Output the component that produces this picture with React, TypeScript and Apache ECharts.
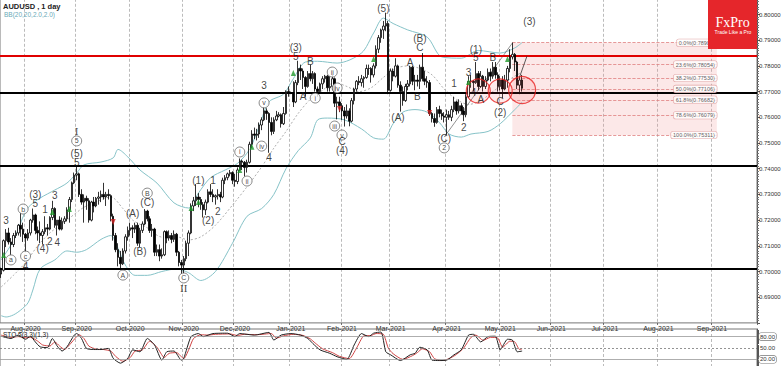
import React, { useEffect, useRef } from "react";
import * as echarts from "echarts";

const START = [2020, 6, 20];
const BAR_COUNT = 311;
const MONTHS = ["Jan","Feb","Mar","Apr","May","Jun","Jul","Aug","Sep","Oct","Nov","Dec"];

// [open, high, low, close] daily AUDUSD from 2020-07-20
const candles: number[][] = [
[0.6990,0.7015,0.6975,0.7005],[0.7005,0.7125,0.7000,0.7120],[0.7120,0.7165,0.7095,0.7150],[0.7150,0.7170,0.7105,0.7115],[0.7115,0.7130,0.7065,0.7105],
[0.7105,0.7150,0.7095,0.7140],[0.7140,0.7160,0.7130,0.7150],[0.7150,0.7185,0.7140,0.7180],[0.7180,0.7230,0.7135,0.7165],[0.7165,0.7190,0.7115,0.7145],
[0.7145,0.7150,0.7075,0.7130],[0.7130,0.7165,0.7120,0.7150],[0.7150,0.7205,0.7140,0.7200],[0.7200,0.7245,0.7190,0.7220],[0.7220,0.7225,0.7145,0.7160],
[0.7160,0.7175,0.7120,0.7150],[0.7150,0.7195,0.7110,0.7140],[0.7140,0.7165,0.7105,0.7155],[0.7155,0.7215,0.7145,0.7170],[0.7170,0.7185,0.7140,0.7165],
[0.7165,0.7215,0.7160,0.7210],[0.7210,0.7275,0.7200,0.7245],[0.7245,0.7250,0.7170,0.7180],[0.7180,0.7200,0.7140,0.7200],[0.7200,0.7215,0.7160,0.7165],
[0.7165,0.7210,0.7160,0.7195],[0.7195,0.7215,0.7185,0.7205],[0.7205,0.7250,0.7195,0.7240],[0.7240,0.7290,0.7190,0.7280],[0.7280,0.7350,0.7270,0.7345],
[0.7345,0.7385,0.7340,0.7375],[0.7375,0.7413,0.7355,0.7380],[0.7380,0.7385,0.7290,0.7300],[0.7300,0.7320,0.7260,0.7270],[0.7270,0.7300,0.7190,0.7285],
[0.7285,0.7295,0.7240,0.7275],[0.7275,0.7285,0.7190,0.7200],[0.7200,0.7275,0.7195,0.7270],[0.7270,0.7290,0.7230,0.7255],[0.7255,0.7290,0.7250,0.7285],
[0.7285,0.7310,0.7260,0.7290],[0.7290,0.7315,0.7270,0.7300],[0.7300,0.7345,0.7280,0.7290],[0.7290,0.7310,0.7255,0.7300],[0.7300,0.7320,0.7280,0.7295],
[0.7295,0.7300,0.7195,0.7215],[0.7215,0.7225,0.7120,0.7140],[0.7140,0.7150,0.7075,0.7085],[0.7085,0.7110,0.7020,0.7055],[0.7055,0.7080,0.7006,0.7030],
[0.7030,0.7090,0.7025,0.7080],[0.7080,0.7145,0.7070,0.7135],[0.7135,0.7175,0.7120,0.7160],[0.7160,0.7190,0.7140,0.7170],[0.7170,0.7180,0.7130,0.7165],
[0.7165,0.7190,0.7150,0.7180],[0.7180,0.7190,0.7100,0.7110],[0.7110,0.7170,0.7095,0.7160],[0.7160,0.7195,0.7150,0.7185],[0.7185,0.7243,0.7180,0.7235],
[0.7235,0.7240,0.7195,0.7205],[0.7205,0.7215,0.7150,0.7160],[0.7160,0.7185,0.7135,0.7165],[0.7165,0.7170,0.7060,0.7075],[0.7075,0.7105,0.7060,0.7085],
[0.7085,0.7105,0.7040,0.7060],[0.7060,0.7090,0.7050,0.7065],[0.7065,0.7160,0.7060,0.7155],[0.7155,0.7160,0.7110,0.7130],[0.7130,0.7160,0.7120,0.7140],
[0.7140,0.7150,0.7110,0.7125],[0.7125,0.7160,0.7115,0.7145],[0.7145,0.7150,0.7060,0.7075],[0.7075,0.7080,0.7020,0.7035],[0.7035,0.7045,0.6990,0.7025],
[0.7025,0.7060,0.6991,0.7050],[0.7050,0.7120,0.7040,0.7110],[0.7110,0.7160,0.7060,0.7150],[0.7150,0.7265,0.7145,0.7255],[0.7255,0.7290,0.7235,0.7275],
[0.7275,0.7340,0.7255,0.7290],[0.7290,0.7305,0.7250,0.7280],[0.7280,0.7290,0.7240,0.7260],[0.7260,0.7270,0.7210,0.7240],[0.7240,0.7280,0.7220,0.7270],
[0.7270,0.7320,0.7265,0.7310],[0.7310,0.7340,0.7290,0.7300],[0.7300,0.7320,0.7270,0.7290],[0.7290,0.7300,0.7260,0.7295],[0.7295,0.7320,0.7280,0.7300],
[0.7300,0.7310,0.7270,0.7290],[0.7290,0.7365,0.7285,0.7355],[0.7355,0.7375,0.7340,0.7365],[0.7365,0.7385,0.7355,0.7380],[0.7380,0.7395,0.7370,0.7385],
[0.7385,0.7390,0.7340,0.7355],[0.7355,0.7380,0.7330,0.7350],[0.7350,0.7405,0.7340,0.7395],[0.7395,0.7440,0.7390,0.7430],[0.7430,0.7435,0.7395,0.7425],
[0.7425,0.7430,0.7370,0.7405],[0.7405,0.7435,0.7385,0.7425],[0.7425,0.7505,0.7420,0.7495],[0.7495,0.7550,0.7480,0.7535],[0.7535,0.7560,0.7515,0.7530],
[0.7530,0.7555,0.7510,0.7535],[0.7535,0.7580,0.7520,0.7570],[0.7570,0.7600,0.7550,0.7590],[0.7590,0.7640,0.7585,0.7625],[0.7625,0.7635,0.7590,0.7615],
[0.7615,0.7620,0.7462,0.7580],[0.7580,0.7600,0.7530,0.7545],[0.7545,0.7600,0.7535,0.7590],[0.7590,0.7625,0.7585,0.7605],[0.7605,0.7620,0.7600,0.7610],
[0.7610,0.7615,0.7560,0.7575],[0.7575,0.7640,0.7570,0.7615],[0.7615,0.7705,0.7610,0.7700],[0.7700,0.7720,0.7680,0.7695],[0.7695,0.7700,0.7690,0.7695],
[0.7695,0.7740,0.7640,0.7660],[0.7660,0.7745,0.7655,0.7735],[0.7735,0.7820,0.7725,0.7790],[0.7790,0.7805,0.7745,0.7780],[0.7780,0.7790,0.7710,0.7755],
[0.7755,0.7760,0.7680,0.7720],[0.7720,0.7780,0.7715,0.7770],[0.7770,0.7805,0.7740,0.7750],[0.7750,0.7780,0.7730,0.7770],[0.7770,0.7775,0.7700,0.7710],
[0.7710,0.7720,0.7680,0.7700],[0.7700,0.7735,0.7690,0.7730],[0.7730,0.7760,0.7710,0.7750],[0.7750,0.7765,0.7735,0.7760],[0.7760,0.7765,0.7700,0.7715],
[0.7715,0.7760,0.7700,0.7720],[0.7720,0.7765,0.7705,0.7750],[0.7750,0.7755,0.7640,0.7655],[0.7655,0.7680,0.7592,0.7660],[0.7660,0.7680,0.7620,0.7645],
[0.7645,0.7655,0.7590,0.7625],[0.7625,0.7640,0.7564,0.7605],[0.7605,0.7650,0.7595,0.7625],[0.7625,0.7635,0.7565,0.7585],[0.7585,0.7675,0.7580,0.7665],
[0.7665,0.7715,0.7650,0.7710],[0.7710,0.7745,0.7700,0.7740],[0.7740,0.7760,0.7725,0.7735],[0.7735,0.7765,0.7720,0.7750],[0.7750,0.7760,0.7715,0.7755],
[0.7755,0.7805,0.7750,0.7790],[0.7790,0.7805,0.7765,0.7790],[0.7790,0.7795,0.7735,0.7765],[0.7765,0.7810,0.7755,0.7800],[0.7800,0.7880,0.7790,0.7865],
[0.7865,0.7920,0.7850,0.7910],[0.7910,0.7945,0.7890,0.7940],[0.7940,0.7975,0.7905,0.7955],[0.7955,0.8007,0.7935,0.7965],[0.7965,0.7975,0.7690,0.7705],
[0.7705,0.7790,0.7700,0.7780],[0.7780,0.7790,0.7740,0.7760],[0.7760,0.7830,0.7755,0.7800],[0.7800,0.7805,0.7715,0.7725],[0.7725,0.7740,0.7622,0.7700],
[0.7700,0.7720,0.7645,0.7665],[0.7665,0.7730,0.7660,0.7720],[0.7720,0.7745,0.7705,0.7730],[0.7730,0.7800,0.7720,0.7795],[0.7795,0.7800,0.7725,0.7740],
[0.7740,0.7765,0.7705,0.7745],[0.7745,0.7765,0.7720,0.7740],[0.7740,0.7805,0.7710,0.7795],[0.7795,0.7850,0.7740,0.7750],[0.7750,0.7780,0.7725,0.7740],
[0.7740,0.7760,0.7715,0.7735],[0.7735,0.7745,0.7605,0.7615],[0.7615,0.7620,0.7580,0.7595],[0.7595,0.7615,0.7563,0.7580],[0.7580,0.7640,0.7575,0.7630],
[0.7630,0.7645,0.7600,0.7615],[0.7615,0.7630,0.7590,0.7605],[0.7605,0.7620,0.7580,0.7600],[0.7600,0.7630,0.7532,0.7610],[0.7610,0.7625,0.7590,0.7600],
[0.7600,0.7645,0.7585,0.7630],[0.7630,0.7680,0.7620,0.7660],[0.7660,0.7665,0.7610,0.7625],[0.7625,0.7670,0.7615,0.7645],[0.7645,0.7655,0.7610,0.7625],
[0.7625,0.7640,0.7585,0.7610],[0.7610,0.7690,0.7600,0.7680],[0.7680,0.7760,0.7675,0.7740],[0.7740,0.7765,0.7715,0.7740],[0.7740,0.7745,0.7700,0.7735],
[0.7735,0.7815,0.7730,0.7770],[0.7770,0.7780,0.7705,0.7720],[0.7720,0.7780,0.7715,0.7760],[0.7760,0.7765,0.7700,0.7720],[0.7720,0.7760,0.7710,0.7745],
[0.7745,0.7790,0.7740,0.7775],[0.7775,0.7790,0.7740,0.7760],[0.7760,0.7815,0.7750,0.7795],[0.7795,0.7815,0.7750,0.7765],[0.7765,0.7775,0.7700,0.7720],
[0.7720,0.7760,0.7705,0.7745],[0.7745,0.7760,0.7675,0.7710],[0.7710,0.7765,0.7705,0.7745],[0.7745,0.7800,0.7715,0.7790],[0.7790,0.7865,0.7775,0.7835],
[0.7835,0.7891,0.7825,0.7845],[0.7845,0.7850,0.7780,0.7815],[0.7815,0.7820,0.7710,0.7725],[0.7725,0.7760,0.7690,0.7745],[0.7745,0.7765,0.7700,0.7713]
];

const bbUpper = [[0,0.7045],[5,0.712],[10,0.7235],[12,0.7258],[16,0.7286],[22,0.7317],[27,0.7344],[31,0.7383],[34,0.7415],[41,0.7426],[46,0.7442],[48,0.7475],[52,0.7446],[57,0.7395],[64,0.7344],[71,0.7267],[77,0.7247],[81,0.7305],[86,0.7365],[92,0.7395],[97,0.7420],[102,0.7475],[106,0.7565],[110,0.766],[116,0.769],[120,0.775],[125,0.7815],[130,0.7818],[138,0.7811],[148,0.785],[153,0.7928],[157,0.7986],[161,0.7965],[167,0.794],[175,0.7912],[181,0.7835],[189,0.783],[196,0.786],[205,0.785],[211,0.787],[214,0.7891]];
const bbMiddle = [[0,0.6940],[5,0.6985],[10,0.7035],[15,0.710],[20,0.7150],[27,0.720],[34,0.725],[40,0.7275],[45,0.729],[50,0.7245],[54,0.720],[60,0.717],[66,0.7134],[72,0.7135],[77,0.7123],[82,0.7135],[88,0.718],[96,0.7270],[101,0.733],[107,0.7407],[112,0.748],[117,0.7545],[122,0.7615],[127,0.767],[132,0.7705],[137,0.7735],[142,0.7720],[147,0.7700],[152,0.7715],[157,0.7755],[162,0.7790],[167,0.7800],[172,0.7790],[177,0.7765],[182,0.7710],[187,0.7670],[192,0.7650],[197,0.7665],[202,0.7700],[207,0.7735],[211,0.7760],[214,0.7775]];
const bbLower = [[0,0.6828],[2,0.6823],[5,0.6831],[8,0.685],[11,0.6878],[13,0.6928],[16,0.701],[22,0.7045],[27,0.708],[31,0.7075],[35,0.7085],[41,0.7125],[45,0.714],[48,0.709],[51,0.7025],[55,0.6985],[60,0.6985],[66,0.700],[72,0.701],[77,0.6995],[82,0.6965],[88,0.700],[95,0.711],[101,0.7215],[107,0.7245],[112,0.730],[117,0.740],[122,0.747],[127,0.752],[130,0.759],[134,0.7597],[141,0.759],[148,0.7555],[153,0.752],[157,0.7515],[161,0.7575],[165,0.762],[170,0.763],[175,0.762],[180,0.758],[184,0.7535],[189,0.7523],[193,0.7535],[200,0.7545],[205,0.7575],[211,0.763],[214,0.7659]];

const stochK = [[0,81],[4,75],[7,84],[10,73],[12,81],[14,66],[16,53],[19,51],[21,75],[23,55],[25,42],[27,53],[30,84],[31,88],[33,75],[35,49],[38,46],[41,46],[44,49],[46,23],[49,10],[52,23],[54,45],[57,40],[60,75],[63,58],[66,18],[68,40],[71,42],[74,18],[75,23],[78,80],[81,88],[83,80],[87,88],[93,89],[96,80],[98,88],[104,84],[110,91],[112,71],[115,84],[119,88],[123,84],[126,75],[128,62],[131,45],[135,36],[138,27],[142,20],[145,58],[148,88],[151,80],[153,89],[156,92],[158,40],[160,32],[164,17],[168,32],[170,36],[172,52],[175,45],[177,18],[180,17],[183,18],[186,32],[189,45],[192,84],[194,86],[197,66],[200,80],[203,81],[205,45],[208,73],[210,71],[212,40],[214,41.92]];
const stochD = [[0,84],[4,78],[7,80],[10,77],[12,78],[15,68],[17,58],[20,55],[22,66],[24,55],[26,46],[28,58],[31,80],[32,85],[34,75],[36,55],[39,47],[42,46],[45,42],[47,28],[50,15],[53,25],[55,42],[58,45],[61,68],[64,52],[67,25],[69,36],[72,38],[75,22],[77,45],[79,75],[82,85],[85,84],[88,86],[94,87],[97,83],[100,86],[105,85],[111,88],[113,76],[116,82],[120,86],[124,83],[127,74],[129,63],[132,48],[136,38],[139,28],[143,22],[146,50],[149,82],[152,83],[154,88],[157,86],[159,50],[161,35],[165,20],[169,30],[171,38],[173,48],[176,40],[178,22],[181,17],[184,22],[187,33],[190,50],[193,78],[195,84],[198,70],[201,78],[204,76],[206,52],[209,68],[211,66],[213,46],[214,48]];

const blackLevels = [0.7697, 0.7410, 0.7012];
const redLevel = 0.7840;

const fibPct = ["0.0%", "23.6%", "38.2%", "50.0%", "61.8%", "78.6%", "100.0%"];
const fibValues = [0.78901, 0.78054, 0.77530, 0.77106, 0.76682, 0.76079, 0.75311];
const fibStart = 209.6;
const fibEnd = 294.4;

const axisMarks = [[0.77751, "#dcdcdc", "#888"], [0.77132, "#d3a9a9", "#a66"], [0.76588, "#a3a8e0", "#66a"]];
const stochLevels = [80, 50, 20];
const stochLast = 41.92;

const plainLabels: [string, number, number][] = [
["3",2.2,0.7200],["4",10,0.7021],["(3)",14,0.7298],["5",13.7,0.7263],["1",18.2,0.7243],["(4)",17.4,0.7090],["2",19.5,0.7115],["3",22.4,0.7294],["4",23.2,0.7111],
["(5)",31.4,0.7461],["5",31.4,0.7424],["(A)",53.6,0.7224],["(B)",57.3,0.7076],["(C)",59.8,0.7267],["(1)",80.8,0.7356],["(2)",84.9,0.7200],["1",86.5,0.7356],["2",88.6,0.7235],
["3",108.4,0.7722],["4",110.4,0.7442],["(3)",121,0.7870],["5",121,0.7835],["A",124,0.7679],["B",127,0.7819],["C",139.6,0.7504],["(4)",139.6,0.7469],
["(5)",156.9,0.8025],["(A)",162.7,0.7601],["A",168,0.7815],["B",171,0.7679],["(B)",172.1,0.7905],["C",172.1,0.7870],["(C)",182,0.7516],["1",186.1,0.7733],["2",190.3,0.7562],
["3",192.3,0.7776],["4",194.4,0.7698],["(1)",195.2,0.7862],["5",195.2,0.7831],["A",197.2,0.7671],["B",202.2,0.7831],["C",205,0.7660],["(2)",205,0.7617],["(3)",217,0.7971]
];
const circledLabels: [string, number, number][] = [
["a",3.8,0.7045],["b",9,0.7243],["c",10,0.7060],["5",31.4,0.7508],["A",49.5,0.6986],["B",59.8,0.7305],["C",75.4,0.6975],
["i",98,0.7465],["ii",100.5,0.7352],["iv",107,0.7488],["v",108.4,0.7656],["i",128.5,0.7675],["ii",136.3,0.7776],["iii",136.7,0.7566],["iv",138.4,0.7714],["v",139.6,0.7531],["2",182,0.7481]
];
const romanLabels: [string, number, number][] = [["I",31.4,0.7547],["II",75.4,0.6936]];

const redCircles = [[196.4,0.7702,24],[204.7,0.7702,24],[213.7,0.7706,27]];
const greenArrows = [[0.9,0.7064],[21,0.7232],[28,0.7243],[78.3,0.7247],[80.8,0.7270],[97.7,0.7395],[103.4,0.7485],[119.9,0.7772],[153.2,0.7827],[192.3,0.7737],[208.4,0.7827]];
const redArrows = [[46.2,0.7193],[138.8,0.7632],[176.3,0.7617]];
const trendLines = [[[182,0.7523],[209.6,0.7889]]];
const arrowLine = [[213.3,0.7758],[216.2,0.7838]];

function buildDates(): string[] {
  const out: string[] = [];
  let t = Date.UTC(START[0], START[1], START[2]);
  while (out.length < BAR_COUNT) {
    const d = new Date(t);
    const wd = d.getUTCDay();
    if (wd !== 0 && wd !== 6) out.push(d.toISOString().slice(0, 10));
    t += 86400000;
  }
  return out;
}

export default function App() {
  const ref = useRef<HTMLDivElement>(null);
  useEffect(() => {
    if (!ref.current) return;
    const chart = echarts.init(ref.current, null, { renderer: "svg" });
    const dates = buildDates();
    const isMonthStart = (i: number) => i > 0 && dates[i].slice(0, 7) !== dates[i - 1].slice(0, 7);
    const monthFmt = (v: string) => MONTHS[parseInt(v.slice(5, 7), 10) - 1] + "-" + v.slice(0, 4);
    const font = "Liberation Sans";

    const candleData = candles.map((c) => [c[0], c[3], c[2], c[1]]);

    const fibLines = fibValues.map((v) => [
      { coord: [fibStart, v], lineStyle: { color: "#e08080", type: "dashed", width: 0.8 } },
      { coord: [fibEnd, v] },
    ]);
    const hLines = [
      ...blackLevels.map((v) => ({ yAxis: v, lineStyle: { color: "#000", width: 1.8, type: "solid" } })),
      { yAxis: redLevel, lineStyle: { color: "#e00000", width: 1.8, type: "solid" } },
    ];
    const markValueLabels = axisMarks.map((m) => ({
      yAxis: m[0] as number,
      lineStyle: { opacity: 0 },
      label: {
        show: true, position: "end", distance: 2, formatter: (m[0] as number).toFixed(5),
        fontSize: 6, fontFamily: font, color: "#222", backgroundColor: m[1] as string,
        borderColor: m[2] as string, borderWidth: 0.6, borderRadius: 2, padding: [1, 1, 0, 1],
      },
    }));

    const option: any = {
      animation: false,
      backgroundColor: "#ffffff",
      title: [
        { text: "AUDUSD , 1 day", left: 3, top: 2, padding: 0, textStyle: { fontSize: 7.5, fontWeight: "bold", color: "#222", fontFamily: font } },
        { text: "BB(20,20,2.0,2.0)", left: 4, top: 11, padding: 0, textStyle: { fontSize: 6.5, fontWeight: "normal", color: "#6aaab8", fontFamily: font } },
        { text: "STO 5(3,3)(1,3)", left: 3, top: 331, padding: 0, textStyle: { fontSize: 6.5, fontWeight: "normal", color: "#222", fontFamily: font } },
      ],
      graphic: [
        { type: "rect", shape: { x: 708, y: 0, width: 49, height: 49 }, style: { fill: "#e5262b" }, z: 100 },
        { type: "text", x: 732.5, y: 22, style: { text: "FxPro", fill: "#fff", font: "14px 'Liberation Serif'", textAlign: "center", textVerticalAlign: "middle" }, z: 101 },
        { type: "text", x: 733, y: 32, style: { text: "Trade Like a Pro", fill: "#fff", font: "5px 'Liberation Sans'", textAlign: "center", textVerticalAlign: "middle" }, z: 101 },
      ],
      grid: [
        { left: 0, top: -11.2, width: 757, height: 334.1, show: true, borderColor: "#777", borderWidth: 1, containLabel: false, outerBoundsMode: "none" },
        { left: 0, top: 329, width: 757, height: 38, show: true, borderColor: "#777", borderWidth: 1, containLabel: false, outerBoundsMode: "none" },
      ],
      xAxis: [
        {
          type: "category", data: dates, gridIndex: 0, boundaryGap: true,
          axisLine: { show: false },
          axisTick: { show: true, interval: (i: number) => isMonthStart(i), length: 2, lineStyle: { color: "#666" } },
          axisLabel: { interval: (i: number) => isMonthStart(i), formatter: monthFmt, fontSize: 7, margin: 2, color: "#333", fontFamily: font },
          splitLine: { show: true, interval: (i: number) => isMonthStart(i), lineStyle: { color: "#aaa", type: [3, 2], width: 0.8 } },
        },
        {
          type: "category", data: dates, gridIndex: 1, boundaryGap: true,
          axisLine: { show: false }, axisTick: { show: false }, axisLabel: { show: false },
          splitLine: { show: true, interval: (i: number) => isMonthStart(i), lineStyle: { color: "#aaa", type: [3, 2], width: 0.8 } },
        },
      ],
      yAxis: [
        {
          type: "value", gridIndex: 0, position: "right", min: 0.68, max: 0.81, interval: 0.01,
          axisLine: { show: true, lineStyle: { color: "#555" } },
          axisTick: { show: true, length: 3, lineStyle: { color: "#555" } },
          minorTick: { show: true, splitNumber: 10, length: 2, lineStyle: { color: "#777" } },
          axisLabel: { fontSize: 6, margin: 2, color: "#333", fontFamily: font, showMinLabel: false, showMaxLabel: false, formatter: (v: number) => v.toFixed(5) },
          splitLine: { show: false },
        },
        {
          type: "value", gridIndex: 1, position: "right", min: 0, max: 100,
          axisLine: { show: true, lineStyle: { color: "#555" } },
          axisTick: { show: false }, minorTick: { show: true, splitNumber: 10, length: 2 },
          axisLabel: { show: false }, splitLine: { show: false },
        },
      ],
      series: [
        {
          type: "candlestick", name: "AUDUSD", xAxisIndex: 0, yAxisIndex: 0, data: candleData, barWidth: 2, z: 5,
          itemStyle: { color: "#ffffff", color0: "#000000", borderColor: "#000000", borderColor0: "#000000", borderWidth: 0.8 },
          markArea: {
            silent: true,
            itemStyle: { color: "rgba(240,150,150,0.22)" },
            data: [[{ coord: [fibStart, fibValues[0]] }, { coord: [fibEnd, fibValues[fibValues.length - 1]] }]],
          },
          markLine: {
            silent: true, symbol: "none", precision: 5, label: { show: false },
            data: [...hLines, ...fibLines, ...markValueLabels],
          },
        },
        { type: "line", name: "bbUpper", data: bbUpper, showSymbol: false, smooth: 0.3, lineStyle: { color: "#86c3c8", width: 1 }, z: 3 },
        { type: "line", name: "bbLower", data: bbLower, showSymbol: false, smooth: 0.3, lineStyle: { color: "#86c3c8", width: 1 }, z: 3 },
        { type: "line", name: "bbMiddle", data: bbMiddle, showSymbol: false, smooth: 0.3, lineStyle: { color: "#999", width: 0.8, type: [2, 2] }, z: 3 },
        ...trendLines.map((t, k) => ({ type: "line", name: "trend" + k, data: t, showSymbol: false, lineStyle: { color: "#777", width: 0.8 }, z: 4 })),
        { type: "line", name: "arrow", data: arrowLine, symbol: ["none", "arrow"], symbolSize: 6, showSymbol: true, lineStyle: { color: "#333", width: 0.8 }, itemStyle: { color: "#111" }, z: 6 },
        {
          type: "scatter", name: "redCircles", data: redCircles.map((c) => ({ value: [c[0], c[1]], symbolSize: c[2] })),
          itemStyle: { color: "rgba(255,70,70,0.14)", borderColor: "#e82020", borderWidth: 1.2 }, z: 7, silent: true,
        },
        { type: "scatter", name: "greenArrows", data: greenArrows, symbol: "triangle", symbolSize: [5, 6], itemStyle: { color: "#1f9a2a" }, z: 8 },
        { type: "scatter", name: "redArrows", data: redArrows, symbol: "triangle", symbolRotate: 180, symbolSize: [5, 6], itemStyle: { color: "#d02020" }, z: 8 },
        {
          type: "scatter", name: "waves", symbolSize: 0, z: 9,
          data: plainLabels.map((l) => ({ value: [l[1], l[2]], label: { formatter: l[0] } })),
          label: { show: true, position: "inside", fontSize: 10, color: "#111", fontFamily: font },
        },
        {
          type: "scatter", name: "circled", symbol: "circle", symbolSize: 10, z: 9,
          itemStyle: { color: "#fff", borderColor: "#444", borderWidth: 0.8 },
          data: circledLabels.map((l) => ({ value: [l[1], l[2]], label: { formatter: l[0] } })),
          label: { show: true, position: "inside", fontSize: 7, color: "#111", fontFamily: font },
        },
        {
          type: "scatter", name: "roman", symbolSize: 0, z: 9,
          data: romanLabels.map((l) => ({ value: [l[1], l[2]], label: { formatter: l[0] } })),
          label: { show: true, position: "inside", fontSize: 11, color: "#111", fontFamily: "Liberation Serif" },
        },
        {
          type: "scatter", name: "fibLabels", symbolSize: 0, z: 9,
          data: fibValues.map((v, k) => ({ value: [fibEnd, v], label: { formatter: fibPct[k] + "(" + v.toFixed(5) + ")" } })),
          label: {
            show: true, position: "left", distance: 0, fontSize: 5.5, color: "#333", fontFamily: font,
            backgroundColor: "#fff", borderColor: "#d99", borderWidth: 0.6, borderRadius: 2, padding: [1, 2, 0, 2],
          },
        },
        {
          type: "line", name: "stochK", xAxisIndex: 1, yAxisIndex: 1, data: stochK, showSymbol: false, smooth: 0.2,
          lineStyle: { color: "#222", width: 1 }, z: 4,
          markLine: {
            silent: true, symbol: "none", precision: 2,
            data: [
              ...stochLevels.map((v) => ({
                yAxis: v,
                lineStyle: { color: v === 50 ? "#777" : "#999", width: 0.8, type: v === 50 ? [2, 2] : "solid" },
                label: { show: true, position: "end", distance: 2, formatter: v.toFixed(2), fontSize: 6, color: "#333", fontFamily: font,
                  backgroundColor: v === 50 ? "transparent" : "#fff", borderColor: v === 50 ? "transparent" : "#777", borderWidth: 0.6, borderRadius: 2, padding: [1, 1, 0, 1] },
              })),
              {
                yAxis: stochLast, lineStyle: { opacity: 0 },
                label: { show: true, position: "end", distance: 2, formatter: stochLast.toFixed(2), fontSize: 6, color: "#222", fontFamily: font,
                  backgroundColor: "#fff", borderColor: "#333", borderWidth: 0.6, borderRadius: 2, padding: [1, 1, 0, 1] },
              },
            ],
          },
        },
        { type: "line", name: "stochD", xAxisIndex: 1, yAxisIndex: 1, data: stochD, showSymbol: false, smooth: 0.2, lineStyle: { color: "#d04545", width: 1 }, z: 3 },
      ],
    };
    chart.setOption(option);
    return () => chart.dispose();
  }, []);
  return <div ref={ref} style={{ width: 782, height: 366, position: "absolute", left: 0, top: 0 }} />;
}
